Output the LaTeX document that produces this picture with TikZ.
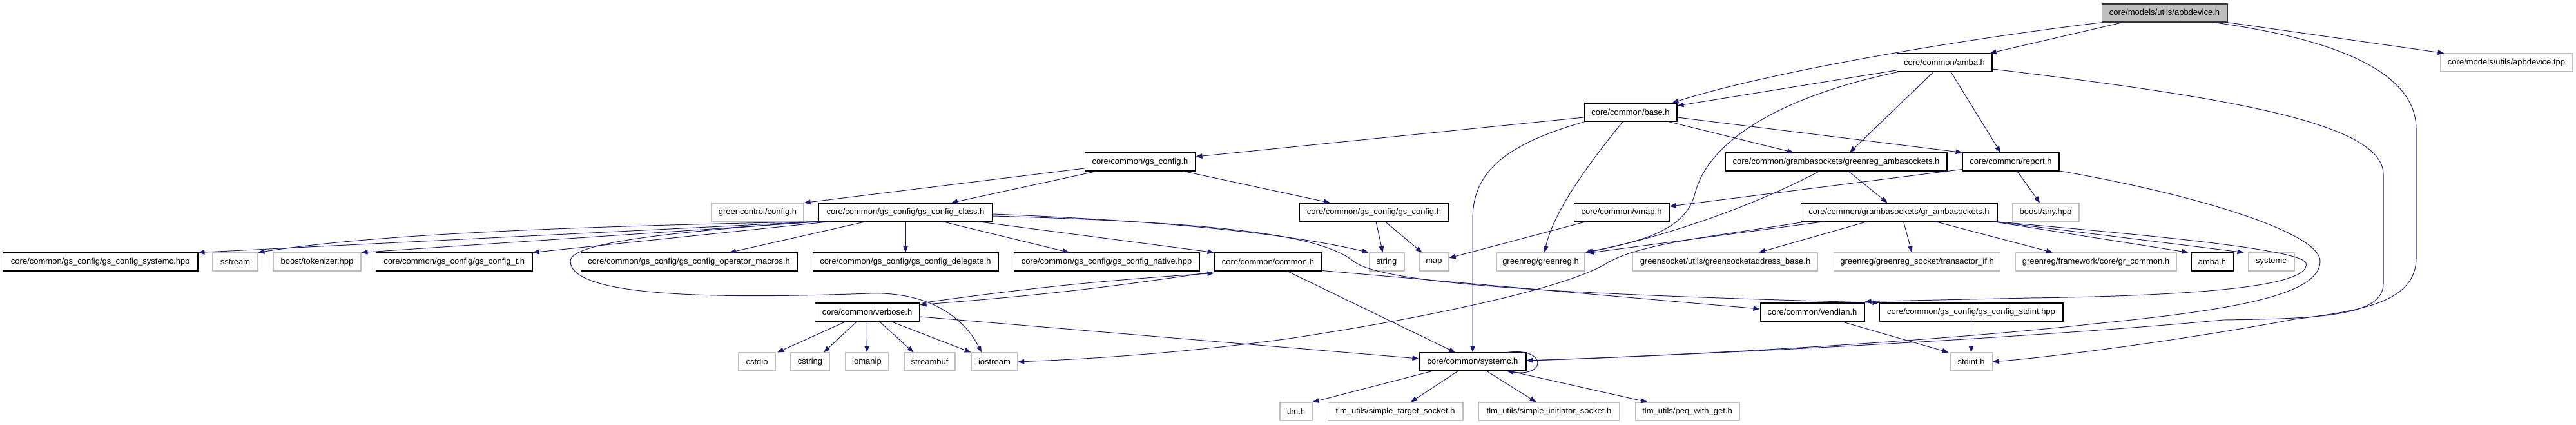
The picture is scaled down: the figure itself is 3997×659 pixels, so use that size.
\documentclass[tikz,border=0pt]{standalone}
\usepackage{fontspec}
\setmainfont{Liberation Sans}
\usetikzlibrary{arrows.meta,calc}
\definecolor{incedgeblue}{HTML}{191970}
\definecolor{incgrey}{HTML}{BFBFBF}
\newcommand{\incfont}{\fontsize{7.4}{8}\selectfont}
\tikzset{
  incfile/.style={
    rectangle,
    draw=black,
    line width=0.6pt,
    fill=white,
    minimum height=0.56cm,
    inner sep=0pt,
    font=\incfont
  },
  incext/.style={incfile, draw=incgrey},
  incroot/.style={incfile, draw=black!80, fill=incgrey},
  incarrow/.style={-{Triangle[length=2mm,width=1.5mm]}, line width=0.55pt, draw=incedgeblue}
}

\begin{document}
\begin{tikzpicture}[x=0.02cm, y=-0.02cm]
\useasboundingbox (0,0) rectangle (3997,659);
% files, row by row
\node[incroot, minimum width=3.90cm] (apb) at (3358.5,20) {core/models/utils/apbdevice.h};
\node[incext, minimum width=4.12cm] (tpp) at (3889,97) {core/models/utils/apbdevice.tpp};
\node[incfile, minimum width=2.96cm] (amba) at (3017,97) {core/common/amba.h};
\node[incfile, minimum width=2.88cm] (base) at (2530,174) {core/common/base.h};
\node[incfile, minimum width=3.44cm] (gscfg) at (1769,251) {core/common/gs\_config.h};
\node[incfile, minimum width=6.88cm] (grregamba) at (2849,251) {core/common/grambasockets/greenreg\_ambasockets.h};
\node[incfile, minimum width=3.00cm] (report) at (3120,251) {core/common/report.h};
\node[incext, minimum width=2.86cm] (gcconfig) at (1175.5,329) {greencontrol/config.h};
\node[incfile, minimum width=5.40cm] (cfgclass) at (1405,329) {core/common/gs\_config/gs\_config\_class.h};
\node[incfile, minimum width=4.64cm] (cfgh) at (2132,329) {core/common/gs\_config/gs\_config.h};
\node[incfile, minimum width=2.96cm] (vmap) at (2516,329) {core/common/vmap.h};
\node[incfile, minimum width=6.10cm] (gramba) at (2946.5,329) {core/common/grambasockets/gr\_ambasockets.h};
\node[incext, minimum width=2.08cm] (anyhpp) at (3174,329) {boost/any.hpp};
\node[incfile, minimum width=6.05cm] (cfgsysc) at (155.75,406) {core/common/gs\_config/gs\_config\_systemc.hpp};
\node[incext, minimum width=1.40cm] (sstream) at (365,406) {sstream};
\node[incext, minimum width=2.72cm] (tokenizer) at (492,406) {boost/tokenizer.hpp};
\node[incfile, minimum width=4.85cm] (cfgt) at (704.75,406) {core/common/gs\_config/gs\_config\_t.h};
\node[incfile, minimum width=6.72cm] (opmacros) at (1069,406) {core/common/gs\_config/gs\_config\_operator\_macros.h};
\node[incfile, minimum width=5.76cm] (delegate) at (1405,406) {core/common/gs\_config/gs\_config\_delegate.h};
\node[incfile, minimum width=5.76cm] (native) at (1717,406) {core/common/gs\_config/gs\_config\_native.hpp};
\node[incfile, minimum width=3.34cm] (common) at (1967.5,406) {core/common/common.h};
\node[incext, minimum width=1.10cm] (string) at (2151.5,406) {string};
\node[incext, minimum width=0.92cm] (map) at (2225,406) {map};
\node[incext, minimum width=2.74cm] (greenreg) at (2390.5,406) {greenreg/greenreg.h};
\node[incext, minimum width=5.75cm] (gsaddr) at (2677,406) {greensocket/utils/greensocketaddress\_base.h};
\node[incext, minimum width=5.16cm] (transif) at (2974.5,406) {greenreg/greenreg\_socket/transactor\_if.h};
\node[incext, minimum width=5.00cm] (grcommon) at (3252,406) {greenreg/framework/core/gr\_common.h};
\node[incfile, minimum width=1.30cm] (ambaplain) at (3432.5,406) {amba.h};
\node[incext, minimum width=1.44cm] (systemcstd) at (3524,406) {systemc};
\node[incfile, minimum width=3.26cm] (verbose) at (1345.5,484) {core/common/verbose.h};
\node[incfile, minimum width=3.24cm] (vendian) at (2812,484) {core/common/vendian.h};
\node[incfile, minimum width=5.70cm] (cfgstdint) at (3058.5,484) {core/common/gs\_config/gs\_config\_stdint.hpp};
\node[incext, minimum width=1.16cm] (cstdio) at (1174.5,561) {cstdio};
\node[incext, minimum width=1.23cm] (cstring) at (1257,561) {cstring};
\node[incext, minimum width=1.34cm] (iomanip) at (1345,561) {iomanip};
\node[incext, minimum width=1.58cm] (streambuf) at (1442.5,561) {streambuf};
\node[incext, minimum width=1.43cm] (iostream) at (1543,561) {iostream};
\node[incfile, minimum width=3.32cm] (systemc) at (2285,561) {core/common/systemc.h};
\node[incext, minimum width=1.30cm] (stdint) at (3058.5,561) {stdint.h};
\node[incext, minimum width=1.00cm] (tlm) at (2011,638) {tlm.h};
\node[incext, minimum width=4.20cm] (target) at (2165,638) {tlm\_utils/simple\_target\_socket.h};
\node[incext, minimum width=4.36cm] (initiator) at (2403.5,638) {tlm\_utils/simple\_initiator\_socket.h};
\node[incext, minimum width=3.24cm] (peq) at (2618,638) {tlm\_utils/peq\_with\_get.h};
% apbdevice.h
\draw[incarrow] ($(apb.south west)+(3,0)$) .. controls (3050,60) and (2750,110) .. ($(base.north east)+(-8,0)$);
\draw[incarrow] ($(apb.south west)+(34,0)$) -- ($(amba.north east)+(-4,0)$);
\draw[incarrow] ($(apb.south east)+(-2,0)$) -- ($(tpp.north west)+(7,0)$);
\draw[incarrow] ($(apb.south east)+(-23,0)$) .. controls (3620,60) and (3749,110) .. (3749,200) -- (3749,400) .. controls (3749,470) and (3660,482) .. (3560,495) .. controls (3400,525) and (3200,552) .. (stdint.east);
% amba.h
\draw[incarrow] ($(amba.west)+(0,12)$) -- ($(base.east)+(0,-10)$);
\draw[incarrow] ($(amba.south)+(-17,0)$) -- ($(grregamba.north)+(21,0)$);
\draw[incarrow] ($(amba.south)+(10,0)$) -- ($(report.north)+(-16,0)$);
\draw[incarrow] ($(amba.south west)+(3,0)$) .. controls (2760,150) and (2650,220) .. (2630,300) .. controls (2615,360) and (2540,375) .. (greenreg.north east);
\draw[incarrow] ($(amba.east)+(0,10)$) .. controls (3450,150) and (3698,190) .. (3698,270) -- (3698,440) .. controls (3698,490) and (3600,494) .. (3450,496) .. controls (3200,520) and (2700,548) .. ($(systemc.east)+(0,-2)$);
% base.h
\draw[incarrow] ($(base.west)+(0,8)$) -- ($(gscfg.east)+(0,-8)$);
\draw[incarrow] ($(base.south west)+(2,0)$) .. controls (2330,225) and (2285,270) .. (2285,340) -- (systemc.north);
\draw[incarrow] ($(base.south)+(-12,0)$) .. controls (2460,260) and (2410,330) .. ($(greenreg.north)+(6,0)$);
\draw[incarrow] ($(base.east)+(0,8)$) -- (report.north west);
\draw[incarrow] ($(base.south east)+(-14,0)$) -- ($(grregamba.north)+(-66,0)$);
% report.h
\draw[incarrow] ($(report.south west)+(0,-3)$) -- ($(vmap.east)+(0,-9)$);
\draw[incarrow] ($(report.south)+(10,0)$) -- ($(anyhpp.north)+(-9,0)$);
\draw[incarrow] ($(report.east)+(0,14)$) .. controls (3400,300) and (3600,360) .. (3600,405) .. controls (3600,460) and (3450,482) .. (3250,502) .. controls (3000,530) and (2600,552) .. ($(systemc.east)+(0,-2)$);
% gs_config.h
\draw[incarrow] ($(gscfg.west)+(0,10)$) -- (gcconfig.north east);
\draw[incarrow] ($(gscfg.south west)+(19,0)$) -- ($(cfgclass.north)+(71,0)$);
\draw[incarrow] ($(gscfg.south east)+(-19,0)$) -- ($(cfgh.north)+(-68,0)$);
% greenreg_ambasockets.h
\draw[incarrow] ($(grregamba.south)+(19,0)$) -- ($(gramba.north)+(-18,0)$);
\draw[incarrow] ($(grregamba.south)+(-26,0)$) .. controls (2700,330) and (2560,372) .. ($(greenreg.north east)+(2,0)$);
% gs_config_class.h
\draw[incarrow] (cfgclass.south west) -- (cfgsysc.north east);
\draw[incarrow] ($(cfgclass.south west)+(4,0)$) .. controls (950,350) and (600,360) .. (sstream.north east);
\draw[incarrow] ($(cfgclass.south west)+(6,0)$) -- (tokenizer.north east);
\draw[incarrow] ($(cfgclass.south west)+(20,0)$) -- (cfgt.north east);
\draw[incarrow] ($(cfgclass.south)+(-61,0)$) -- ($(opmacros.north)+(63,0)$);
\draw[incarrow] (cfgclass) -- (delegate);
\draw[incarrow] ($(cfgclass.south)+(57,0)$) -- ($(native.north)+(-58,0)$);
\draw[incarrow] ($(cfgclass.south)+(111,0)$) -- (common.north west);
\draw[incarrow] ($(cfgclass.east)+(0,3)$) .. controls (1800,342) and (2000,362) .. (string.north west);
\draw[incarrow] ($(cfgclass.east)+(0,6)$) .. controls (1900,345) and (2050,365) .. (2100,405) .. controls (2150,445) and (2500,458) .. (cfgstdint.north west);
\draw[incarrow] (cfgclass.south west) .. controls (1000,362) and (885,380) .. (885,405) .. controls (885,465) and (1150,462) .. (1350,455) .. controls (1450,452) and (1500,500) .. ($(iostream.north)+(-20,0)$);
% gs_config/gs_config.h and vmap.h
\draw[incarrow] ($(cfgh.south)+(3,0)$) -- ($(string.north)+(-6,0)$);
\draw[incarrow] ($(cfgh.south)+(17,0)$) -- ($(map.north west)+(5,0)$);
\draw[incarrow] ($(vmap.south west)+(20,0)$) -- ($(map.east)+(0,-6)$);
% gr_ambasockets.h
\draw[incarrow] ($(gramba.south west)+(38,0)$) -- ($(greenreg.north east)+(4,1)$);
\draw[incarrow] ($(gramba.south west)+(10,0)$) .. controls (2650,368) and (2540,378) .. (2490,410) .. controls (2420,450) and (2200,495) .. (2000,525) .. controls (1800,552) and (1650,558) .. (iostream.east);
\draw[incarrow] ($(gramba.south)+(-49,0)$) -- ($(gsaddr.north)+(52,0)$);
\draw[incarrow] ($(gramba.south)+(7,0)$) -- ($(transif.north)+(-8,0)$);
\draw[incarrow] ($(gramba.south)+(56,0)$) -- ($(grcommon.north)+(-67,0)$);
\draw[incarrow] ($(gramba.south east)+(-8,0)$) -- ($(ambaplain.north west)+(-4,0)$);
\draw[incarrow] ($(gramba.south east)+(-6,0)$) -- ($(systemcstd.north west)+(-6,0)$);
\draw[incarrow] ($(gramba.south east)+(-4,0)$) .. controls (3300,362) and (3570,385) .. (3578,408) .. controls (3586,440) and (3450,458) .. (3150,462) -- ($(vendian.north east)+(0,-2)$);
% common.h and verbose.h
\draw[incarrow] ($(common.south west)+(6,0)$) to[bend left=2] ($(verbose.north east)+(0,3)$);
\draw[incarrow] ($(verbose.north east)+(4,0)$) to[bend left=2] ($(common.south west)+(0,3)$);
\draw[incarrow] ($(common.south)+(30,0)$) -- ($(systemc.north)+(-27,0)$);
\draw[incarrow] ($(common.south east)+(0,-1)$) -- ($(vendian.west)+(0,-5)$);
\draw[incarrow] ($(verbose.south)+(-33,0)$) -- ($(cstdio.north east)+(2,0)$);
\draw[incarrow] ($(verbose.south)+(-16,0)$) -- ($(cstring.north)+(21,0)$);
\draw[incarrow] (verbose) -- (iomanip);
\draw[incarrow] ($(verbose.south)+(19,0)$) -- ($(streambuf.north)+(-25,0)$);
\draw[incarrow] ($(verbose.south)+(37,0)$) -- (iostream.north west);
\draw[incarrow] ($(verbose.east)+(0,7)$) -- ($(systemc.west)+(0,-5)$);
% systemc.h
\draw[incarrow] ($(systemc.north east)+(-30,0)$) .. controls (2400,538) and (2400,585) .. ($(systemc.south east)+(-30,0)$);
\draw[incarrow] ($(systemc.south)+(-63,0)$) -- (tlm.north east);
\draw[incarrow] ($(systemc.south)+(-23,0)$) -- ($(target.north)+(24,0)$);
\draw[incarrow] ($(systemc.south)+(22,0)$) -- ($(initiator.north)+(-20,0)$);
\draw[incarrow] ($(systemc.south)+(58,0)$) -- ($(peq.north west)+(20,0)$);
% stdint.h
\draw[incarrow] ($(vendian.south)+(45,0)$) -- ($(stdint.north west)+(-2,0)$);
\draw[incarrow] (cfgstdint) -- (stdint);
\end{tikzpicture}
\end{document}
